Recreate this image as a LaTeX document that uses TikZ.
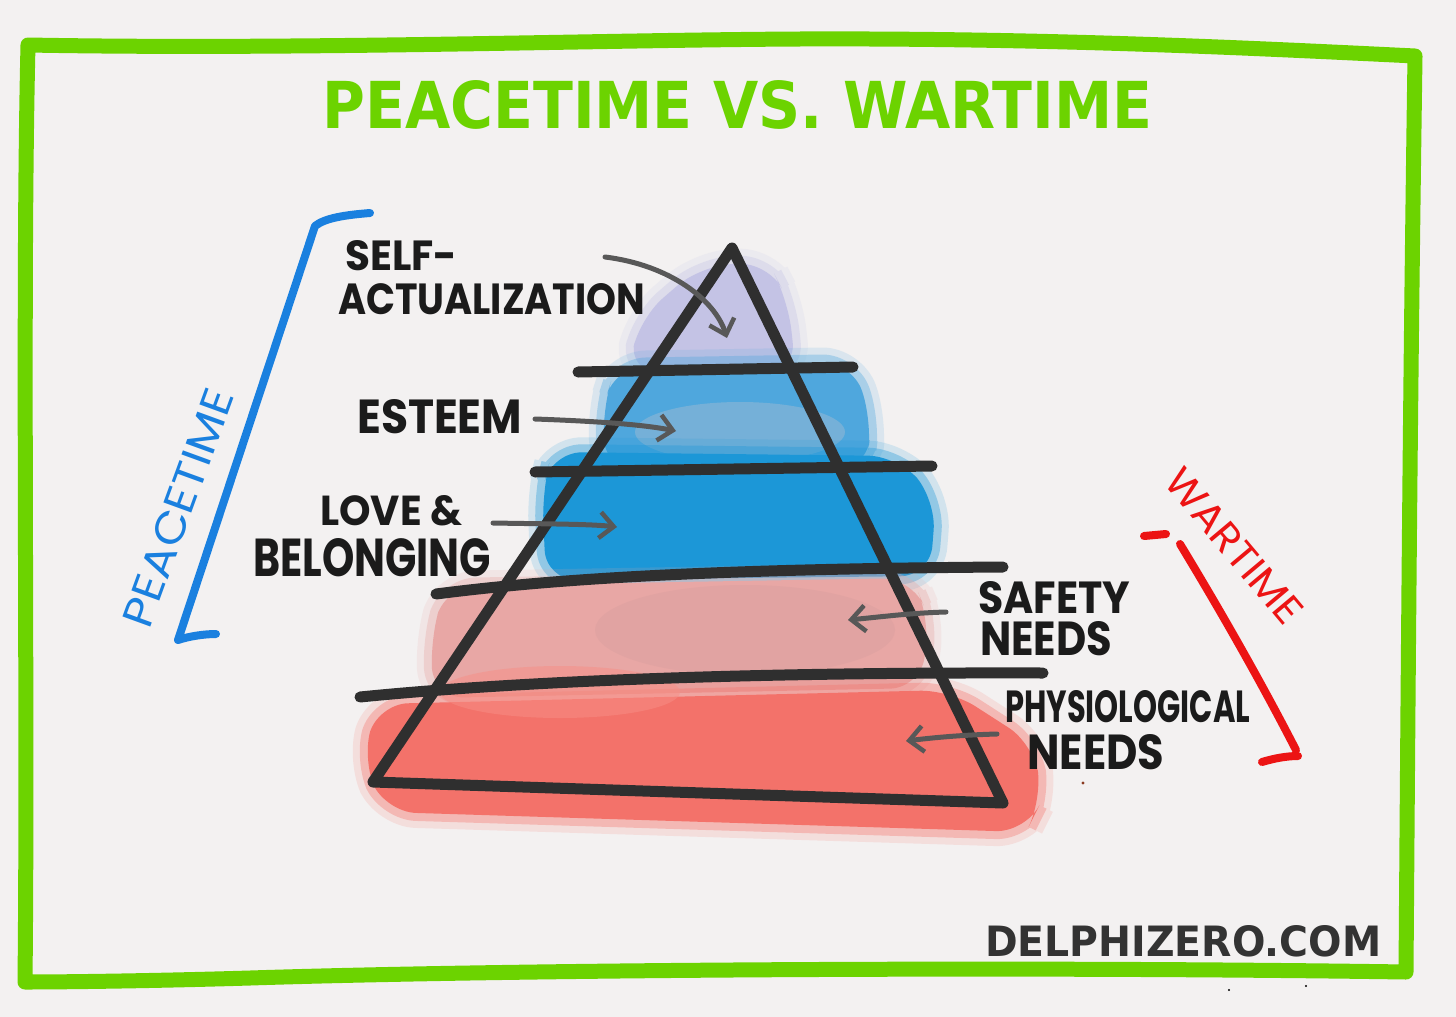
\documentclass[tikz,border=0pt]{standalone}
\usepackage{fontspec}
\usepackage{graphicx}
\setmainfont{Poppins}
\newfontfamily\blockfont{DejaVu Sans}
\usetikzlibrary{arrows.meta}
\definecolor{bg}{HTML}{F3F1F1}
\definecolor{fgreen}{HTML}{6CD300}
\definecolor{ink}{HTML}{1B1B1B}
\definecolor{pyr}{HTML}{2F2F2F}
\definecolor{pencil}{HTML}{585858}
\definecolor{pblue}{HTML}{1A80DF}
\definecolor{wred}{HTML}{EC1414}
\definecolor{lav}{HTML}{C4C3E5}
\definecolor{estblue}{HTML}{4FA7DD}
\definecolor{estlight}{HTML}{86B5D6}
\definecolor{lovblue}{HTML}{1C97D7}
\definecolor{safpink}{HTML}{E8A7A5}
\definecolor{safdusty}{HTML}{DDA1A0}
\definecolor{phyred}{HTML}{F3726A}
\definecolor{phylight}{HTML}{F78F86}
\definecolor{sitegray}{HTML}{333333}
\definecolor{speck}{HTML}{8A3A20}
\tikzset{
  frameline/.style={draw=fgreen, line width=15pt, line join=round, line cap=round},
  pyrline/.style={draw=pyr, line width=11pt, line cap=round, line join=round},
  bracket/.style={line width=8pt, line cap=round, line join=round},
  pencilarrow/.style={draw=pencil, line width=5pt, line cap=round,
     -{Straight Barb[length=14pt, width=26pt, line width=4.5pt]}},
  hand/.style={inner sep=0pt, text=ink},
  blob/.style={rounded corners=30pt, fill=#1,
     preaction={draw=#1, line width=30pt, opacity=0.15},
     preaction={draw=#1, line width=16pt, opacity=0.35}},
}
\newcommand{\lbl}[3]{\resizebox{#1pt}{#2pt}{\bfseries #3}}
\begin{document}
\begin{tikzpicture}[x=1pt, y=-1pt]
\fill[bg] (0,0) rectangle (1456,1017);
\useasboundingbox (0,0) rectangle (1456,1017);

% colour blobs
\path[blob=lav] (700,266) -- (768,262) -- (788,300) -- (796,372) -- (628,372) -- (640,318) -- cycle;
\path[blob=estblue] (616,366) -- (852,362) -- (872,420) -- (866,470) -- (606,470) -- (602,410) -- cycle;
\fill[estlight, opacity=0.7] (740,432) ellipse [x radius=105, y radius=30];
\path[blob=lovblue] (552,452) -- (898,456) -- (936,500) -- (930,576) -- (546,580) -- (542,492) -- cycle;
\path[blob=safpink] (446,586) -- (912,578) -- (930,620) -- (920,688) -- (434,698) -- (430,640) -- cycle;
\fill[safdusty, opacity=0.6] (745,630) ellipse [x radius=150, y radius=45];
\path[blob=phyred] (378,704) -- (950,690) -- (1034,744) -- (1042,800) -- (1026,832) -- (386,812) -- (362,760) -- cycle;
\fill[phylight, opacity=0.5] (560,692) ellipse [x radius=120, y radius=26];

% pyramid
\coordinate (apex) at (732,248);
\coordinate (bl) at (373,782);
\coordinate (br) at (1003,803);
\draw[pyrline] (apex) -- (bl) -- (br) -- cycle;
\coordinate (l1a) at (578,372); \coordinate (l1b) at (853,367);
\coordinate (l2a) at (535,472); \coordinate (l2b) at (932,466);
\coordinate (l3a) at (436,594); \coordinate (l3b) at (1003,567);
\coordinate (l4a) at (360,697); \coordinate (l4b) at (1043,673);
\draw[pyrline] (l1a) -- (l1b);
\draw[pyrline] (l2a) -- (l2b);
\draw[pyrline] (l3a) .. controls (560,578) and (720,569) .. (l3b);
\draw[pyrline] (l4a) .. controls (500,683) and (720,672) .. (l4b);

% frame
\draw[frameline] (28,45) .. controls (300,50) and (600,40) .. (800,39)
  .. controls (1050,38) and (1250,48) .. (1415,56)
  .. controls (1410,400) and (1408,700) .. (1406,972)
  .. controls (1000,966) and (500,970) .. (250,978)
  .. controls (150,981) and (60,982) .. (25,982)
  .. controls (28,700) and (22,300) .. cycle;

% title and site
\node[inner sep=0pt, anchor=north west, text=fgreen] (title) at (322,80)
  {\resizebox{830pt}{48pt}{\blockfont\bfseries PEACETIME VS. WARTIME}};
\node[inner sep=0pt, anchor=north west, text=sitegray] (site) at (985,925)
  {\resizebox{396pt}{31pt}{\blockfont\bfseries DELPHIZERO.COM}};

% brackets
\draw[bracket, pblue] (370,213) .. controls (345,215) and (325,218) .. (315,226)
  -- (178,640) .. controls (190,636) and (205,634) .. (216,634);
\draw[bracket, wred] (1144,536) -- (1166,534);
\draw[bracket, wred] (1180,544) .. controls (1220,610) and (1260,680) .. (1296,750);
\draw[bracket, wred] (1262,762) .. controls (1275,758) and (1288,756) .. (1298,756);

% side labels
\node[inner sep=0pt, rotate=70, text=pblue] (peace) at (178,508)
  {\resizebox{250pt}{30pt}{PEACETIME}};
\node[inner sep=0pt, rotate=-50, text=wred] (war) at (1234,546)
  {\resizebox{190pt}{28pt}{WARTIME}};

% level labels
\node[hand, anchor=north west] (self1) at (345,240) {\lbl{112}{30}{SELF-}};
\node[hand, anchor=north west] (self2) at (338,283) {\lbl{307}{31}{ACTUALIZATION}};
\node[hand, anchor=north west] (esteem) at (357,399) {\lbl{165}{34}{ESTEEM}};
\node[hand, anchor=north west] (love1) at (320,495) {\lbl{142}{30}{LOVE \&}};
\node[hand, anchor=north west] (love2) at (253,538) {\lbl{238}{38}{BELONGING}};
\node[hand, anchor=north west] (saf1) at (978,581) {\lbl{152}{32}{SAFETY}};
\node[hand, anchor=north west] (saf2) at (980,621) {\lbl{132}{34}{NEEDS}};
\node[hand, anchor=north west] (phy1) at (1005,690) {\lbl{245}{32}{PHYSIOLOGICAL}};
\node[hand, anchor=north west] (phy2) at (1027,734) {\lbl{137}{35}{NEEDS}};

% arrows
\coordinate (a1s) at (605,257); \coordinate (a1e) at (727,338);
\coordinate (a2s) at (535,419); \coordinate (a2e) at (676,431);
\coordinate (a3s) at (493,523); \coordinate (a3e) at (617,527);
\coordinate (a4s) at (946,612); \coordinate (a4e) at (848,620);
\coordinate (a5s) at (997,734); \coordinate (a5e) at (906,741);
\draw[pencilarrow] (a1s) .. controls (670,265) and (715,300) .. (a1e);
\draw[pencilarrow] (a2s) .. controls (590,421) and (640,424) .. (a2e);
\draw[pencilarrow] (a3s) .. controls (550,524) and (590,524) .. (a3e);
\draw[pencilarrow] (a4s) .. controls (910,613) and (880,617) .. (a4e);
\draw[pencilarrow] (a5s) .. controls (960,735) and (930,738) .. (a5e);

% specks
\fill[speck] (1083,783) circle (1.6);
\fill[black] (1229,990) circle (1.2);
\fill[black] (1306,986) circle (1.2);
\end{tikzpicture}
\end{document}
